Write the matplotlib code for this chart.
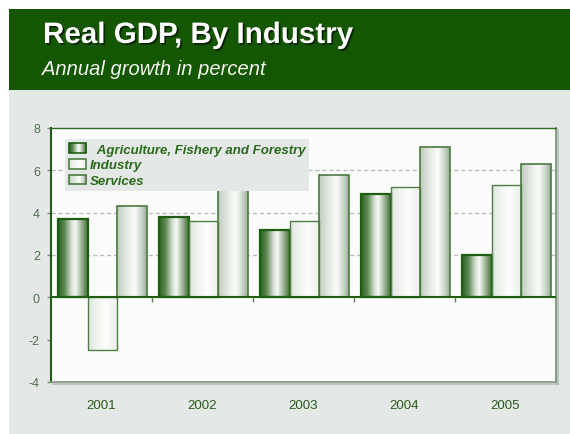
import matplotlib
matplotlib.use("Agg")
import matplotlib.pyplot as plt
import numpy as np
from matplotlib.colors import LinearSegmentedColormap
from matplotlib.legend_handler import HandlerBase
from matplotlib.patches import Patch, Rectangle
import matplotlib.patheffects as pe

plt.rcParams["font.family"] = ["Liberation Sans", "DejaVu Sans"]
plt.rcParams["axes.unicode_minus"] = False

YEARS = ["2001", "2002", "2003", "2004", "2005"]
SERIES = ["Agriculture, Fishery and Forestry", "Industry", "Services"]
AGRICULTURE = [3.7, 3.8, 3.2, 4.9, 2.0]
INDUSTRY = [-2.5, 3.6, 3.6, 5.2, 5.3]
SERVICES = [4.3, 5.1, 5.8, 7.1, 6.3]
Y_TICKS = [-4, -2, 0, 2, 4, 6, 8]

HEADER_GREEN = "#145700"
PANEL_GRAY = "#e4e8e6"
DARK_GREEN = "#1f5e12"
TEXT_GREEN = "#2a6a1a"

# cylinder-style shading across each bar, left to right
CMAPS = [
    LinearSegmentedColormap.from_list("agri", [
        (0.0, "#2b6420"), (0.22, "#5f8a55"), (0.45, "#d6e1d3"),
        (0.58, "#f7f9f6"), (0.78, "#a3b89e"), (1.0, "#3f7034")]),
    LinearSegmentedColormap.from_list("ind", [
        (0.0, "#dfe6de"), (0.35, "#f3f6f2"), (0.6, "#fcfdfc"), (1.0, "#eaeeea")]),
    LinearSegmentedColormap.from_list("serv", [
        (0.0, "#c0cdbe"), (0.35, "#e6ece5"), (0.6, "#fbfcfb"),
        (0.85, "#c6d1c5"), (1.0, "#9aae98")]),
]
EDGES = [(DARK_GREEN, 1.6), ("#4f7f45", 1.0), ("#4a7a3f", 1.2)]


class GradientHandler(HandlerBase):
    def __init__(self, cmap, edge, lw):
        super().__init__()
        self.cmap, self.edge, self.lw = cmap, edge, lw

    def create_artists(self, legend, orig_handle, xdescent, ydescent,
                       width, height, fontsize, trans):
        n = 24
        x0, y0 = -xdescent, -ydescent
        out = []
        for i in range(n):
            out.append(Rectangle((x0 + width * i / n, y0), width / n + 0.3, height,
                                 facecolor=self.cmap((i + 0.5) / n),
                                 edgecolor="none", transform=trans))
        out.append(Rectangle((x0, y0), width, height, facecolor="none",
                             edgecolor=self.edge, lw=self.lw, transform=trans))
        return out


fig = plt.figure(figsize=(5.7, 4.35), dpi=100)
W, H = 570, 435

# header band and gray panel
fig.patches.append(Rectangle((9 / W, 0), 1 - 9 / W, (H - 91) / H,
                             transform=fig.transFigure, facecolor=PANEL_GRAY,
                             edgecolor="none", zorder=-2))
fig.patches.append(Rectangle((9 / W, (H - 91) / H), 1 - 9 / W, 81 / H,
                             transform=fig.transFigure, facecolor=HEADER_GREEN,
                             edgecolor="none", zorder=-2))
fig.text(43 / W, (H - 44) / H, "Real GDP, By Industry", color="white",
         fontsize=21.3, fontweight="bold", va="baseline",
         path_effects=[pe.withSimplePatchShadow(offset=(1.2, -1.2),
                                                shadow_rgbFace="black", alpha=0.6)])
fig.text(42 / W, (H - 75) / H, "Annual growth in percent", color="#f4f4f4",
         fontsize=14.5, fontstyle="italic", va="baseline")

ax = fig.add_axes([51 / W, (H - 383) / H, 505 / W, 254 / H])
ax.set_zorder(1)
ax.set_facecolor("#fcfcfc")

x = np.arange(len(YEARS))
w = 0.294
for v in [t for t in Y_TICKS if 0 < t < max(Y_TICKS)]:
    ax.axhline(v, color="#b7bfb7", lw=1, ls=(0, (3, 2)), zorder=1)

grad = np.linspace(0, 1, 64)[np.newaxis, :]
handles, hmap = [], {}
for k, (vals, label) in enumerate(zip([AGRICULTURE, INDUSTRY, SERVICES], SERIES)):
    edge, lw = EDGES[k]
    bars = ax.bar(x + 0.01 + (k - 1) * w, vals, w, facecolor="none",
                  edgecolor=edge, linewidth=lw, zorder=3)
    for b in bars:
        x0, y0 = b.get_x(), b.get_y()
        x1, y1 = x0 + b.get_width(), y0 + b.get_height()
        im = ax.imshow(grad, extent=[x0, x1, min(y0, y1), max(y0, y1)],
                       cmap=CMAPS[k], aspect="auto", interpolation="bilinear",
                       zorder=2)
        im.set_clip_path(b)
    proxy = Patch(label=("  " + label) if k == 0 else label)
    handles.append(proxy)
    hmap[proxy] = GradientHandler(CMAPS[k], edge, 1.2)

ax.set_xlim(-0.5, len(YEARS) - 0.5)
ax.set_ylim(min(Y_TICKS), max(Y_TICKS))

# zero line and category separators
ax.axhline(0, color=DARK_GREEN, lw=1.5, zorder=4)
zero_frac = -min(Y_TICKS) / (max(Y_TICKS) - min(Y_TICKS))
ax.vlines(x[:-1] + 0.5, zero_frac - 0.017, zero_frac, color="#5b7f55", lw=1,
          transform=ax.get_xaxis_transform(), zorder=4)

ax.set_yticks(Y_TICKS)
ax.set_xticks(x)
ax.set_xticklabels(YEARS)
ax.tick_params(axis="x", length=0, pad=12, labelsize=9.5, labelcolor="#2a5a1a")
ax.tick_params(axis="y", length=3, width=1, color="#6e8e6e", pad=5,
               labelsize=9, labelcolor="#4f6f4f")

shadow = [pe.SimpleLineShadow(offset=(1.5, -1.5), shadow_color="#9aa39e", alpha=0.6),
          pe.Normal()]
ax.spines["left"].set_color(DARK_GREEN)
ax.spines["left"].set_linewidth(1.5)
ax.spines["top"].set_color("#2f6a22")
ax.spines["top"].set_linewidth(1.0)
ax.spines["right"].set_color("#6e8e6e")
ax.spines["right"].set_linewidth(1.2)
ax.spines["right"].set_path_effects(shadow)
ax.spines["bottom"].set_color("#7d947d")
ax.spines["bottom"].set_linewidth(1.2)
ax.spines["bottom"].set_path_effects(shadow)

leg = ax.legend(handles=handles, handler_map=hmap, loc="upper left",
                bbox_to_anchor=(0.028, 0.955), frameon=True, fancybox=False,
                facecolor=PANEL_GRAY, edgecolor="none", framealpha=1,
                handlelength=1.3, handleheight=0.75, handletextpad=0.25,
                labelspacing=0.24, borderpad=0.3, borderaxespad=0,
                prop={"size": 9.5, "weight": "bold", "style": "italic"})
for t in leg.get_texts():
    t.set_color(TEXT_GREEN)
leg.set_zorder(5)

fig.savefig("out.png", dpi=100)
